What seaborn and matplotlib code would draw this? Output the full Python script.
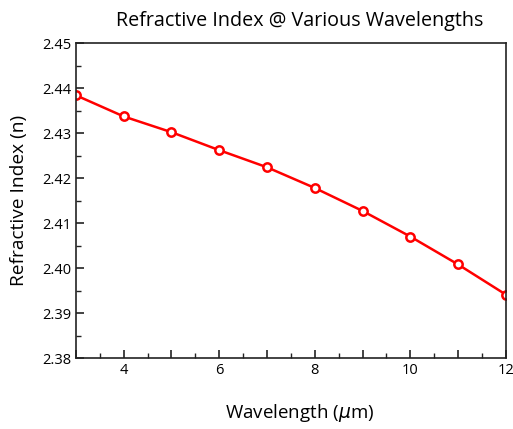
import pandas as pd
import matplotlib
matplotlib.use("Agg")
import matplotlib.pyplot as plt
import seaborn as sns
from matplotlib.ticker import MultipleLocator, FuncFormatter

# Data
wavelength = [3, 4, 5, 6, 7, 8, 9, 10, 11, 12]
refr_index = [2.4384, 2.4337, 2.4302, 2.4262, 2.4224, 2.4178, 2.4127, 2.4070, 2.4008, 2.3941]

data = pd.DataFrame({"Wavelength": wavelength, "n": refr_index})

sns.set_style("ticks")
plt.rcParams["font.family"] = ["Open Sans", "DejaVu Sans"]
plt.rcParams["text.color"] = "black"
plt.rcParams["axes.labelcolor"] = "black"

fig = plt.figure(figsize=(5.13, 4.29), dpi=100)
ax = fig.add_axes([0.148, 0.1655, 0.838, 0.734])

sns.lineplot(x="Wavelength", y="n", data=data, ax=ax, color="red", linewidth=1.8,
             marker="o", markersize=6, markerfacecolor="white",
             markeredgecolor="red", markeredgewidth=1.8)

ax.set_xlim(3, 12)
ax.set_ylim(2.38, 2.45)
ax.xaxis.set_major_locator(MultipleLocator(1))
ax.xaxis.set_minor_locator(MultipleLocator(0.5))
ax.xaxis.set_major_formatter(FuncFormatter(lambda v, p: "%d" % v if int(round(v)) % 2 == 0 else ""))
ax.yaxis.set_major_locator(MultipleLocator(0.01))
ax.yaxis.set_minor_locator(MultipleLocator(0.005))
ax.yaxis.set_major_formatter(FuncFormatter(lambda v, p: "%.2f" % v))

ax.tick_params(which="both", direction="in", top=False, right=False, colors="#222222",
               labelcolor="black")
ax.tick_params(which="major", length=6, width=1.2, labelsize=10.5)
ax.tick_params(which="minor", length=3.5, width=1)
for s in ax.spines.values():
    s.set_linewidth(1.2)
    s.set_color("#222222")

ax.set_title("Refractive Index @ Various Wavelengths", fontsize=14.2, pad=12, x=0.52)
ax.set_xlabel(r"Wavelength ($\mu$m)", fontsize=13.5, labelpad=14)
ax.xaxis.set_label_coords(0.52, -0.14)
ax.set_ylabel("Refractive Index (n)", fontsize=13.8, labelpad=10)

fig.savefig("out.png", dpi=100)
